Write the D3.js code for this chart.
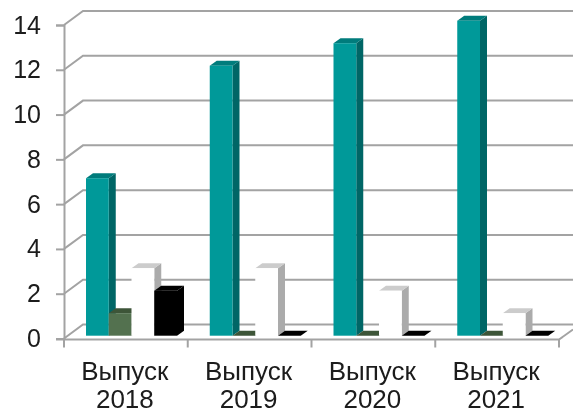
<!DOCTYPE html>
<html>
<head>
<meta charset="utf-8">
<script src="https://cdnjs.cloudflare.com/ajax/libs/d3/7.8.5/d3.min.js"></script>
<style>
  html, body { margin: 0; padding: 0; background: #fff; }
  svg { display: block; }
  text { font-family: "Liberation Sans", Arial, sans-serif; fill: #1a1a1a; }
</style>
</head>
<body>
<div class="chart"></div>
<script>
// Data
const categories = ['Выпуск 2018', 'Выпуск 2019', 'Выпуск 2020', 'Выпуск 2021'];
const seriesNames = ['teal', 'green', 'white', 'black'];
const tealValues = [7, 12, 13, 14];
const greenValues = [1, 0, 0, 0];
const whiteValues = [3, 3, 2, 1];
const blackValues = [2, 0, 0, 0];
const yTicks = [0, 2, 4, 6, 8, 10, 12, 14];

const seriesValues = [tealValues, greenValues, whiteValues, blackValues];
const seriesColors = [
    {front: '#009999', top: '#007b7b', side: '#006666'},
    {front: '#53714f', top: '#3e5538', side: '#3e5538'},
    {front: '#ffffff', top: '#cccccc', side: '#ababab'},
    {front: '#000000', top: '#000000', side: '#000000'}
];

// Base
const width = 573;
const height = 413;
const axisColor = '#a3a3a3';

const svg = d3.select('.chart')
    .append('svg')
    .attr('width', width)
    .attr('height', height);

const soft = svg.append('defs').append('filter').attr('id', 'soft');
soft.append('feGaussianBlur').attr('stdDeviation', 0.5);

const g = svg.append('g').attr('filter', 'url(#soft)');

// Scales
const xScale = d3.scaleBand()
    .domain(categories)
    .range([64, 559]);

const xInner = d3.scaleBand()
    .domain(seriesNames)
    .range([0, 91]);

const yScale = d3.scaleLinear()
    .domain([0, 14])
    .range([338.5, 25]);

// Bars stand a little inside the floor, so they get their own range
const yBar = d3.scaleLinear()
    .domain([0, 14])
    .range([335.7, 20.7]);

// Depth of the 3D wall and of the bars
const wall = {dx: 19, dy: -14};
const bar = {dx: 7, dy: -5, shiftX: 22};

// Back wall grid lines
const grid = g.append('g').attr('class', 'grid');

grid.selectAll('path')
    .data(yTicks)
    .enter()
    .append('path')
    .attr('d', d => {
        const y = yScale(d);
        return d3.line()([[64, y], [64 + wall.dx, y + wall.dy], [width, y + wall.dy]]);
    })
    .style('fill', 'none')
    .style('stroke', axisColor)
    .style('stroke-width', 2);

// Bars
const barLayer = g.append('g').attr('class', 'bars');

categories.forEach((cat, c) => {
    seriesNames.forEach((name, s) => {
        const value = seriesValues[s][c];
        const color = seriesColors[s];
        const x0 = xScale(cat) + bar.shiftX + xInner(name);
        const x1 = x0 + xInner.bandwidth();
        const yTop = yBar(value);
        const yBase = yBar(0);

        const item = barLayer.append('g').attr('class', 'bar ' + name);

        if (value > 0) {
            item.append('path')
                .attr('d', d3.line()([[x1, yTop], [x1 + bar.dx, yTop + bar.dy], [x1 + bar.dx, yBase + bar.dy], [x1, yBase]]) + 'Z')
                .style('fill', color.side);
        }
        // white bars at zero leave nothing visible on the white floor
        if (value > 0 || name !== 'white') {
            item.append('path')
                .attr('d', d3.line()([[x0, yTop], [x0 + bar.dx, yTop + bar.dy], [x1 + bar.dx, yTop + bar.dy], [x1, yTop]]) + 'Z')
                .style('fill', color.top);
        }
        if (value > 0) {
            item.append('rect')
                .attr('x', x0)
                .attr('y', yTop)
                .attr('width', x1 - x0)
                .attr('height', yBase - yTop)
                .style('fill', color.front);
        }
    });
});

// Axes
const yAxis = d3.axisLeft(yScale)
    .tickValues(yTicks)
    .tickSize(8)
    .tickPadding(15);

const yAxisDraw = g.append('g')
    .attr('class', 'y axis')
    .attr('transform', 'translate(64, 0)')
    .call(yAxis);

yAxisDraw.select('.domain').style('stroke', axisColor).style('stroke-width', 2);
yAxisDraw.selectAll('.tick line').style('stroke', axisColor).style('stroke-width', 2);
yAxisDraw.selectAll('text')
    .style('font-size', '25px')
    .style('font-family', '"Liberation Sans", Arial, sans-serif')
    .style('fill', '#1a1a1a');

const xBase = yScale(0) + 1;

const xAxis = g.append('g').attr('class', 'x axis');

xAxis.append('path')
    .attr('d', d3.line()([[56, xBase], [xScale.range()[1], xBase], [width, xBase - 10]]))
    .style('fill', 'none')
    .style('stroke', axisColor)
    .style('stroke-width', 2);

xAxis.selectAll('.boundary')
    .data(categories.map(c => xScale(c)).concat(xScale.range()[1]))
    .enter()
    .append('line')
    .attr('class', 'boundary')
    .attr('x1', d => d)
    .attr('x2', d => d)
    .attr('y1', xBase)
    .attr('y2', xBase + 8)
    .style('stroke', axisColor)
    .style('stroke-width', 2);

const labels = xAxis.selectAll('.label')
    .data(categories)
    .enter()
    .append('text')
    .attr('class', 'label')
    .attr('text-anchor', 'middle')
    .style('font-size', '26px');

labels.append('tspan')
    .attr('x', d => xScale(d) + xScale.bandwidth() / 2 - 1)
    .attr('y', 380)
    .text(d => d.split(' ')[0]);

labels.append('tspan')
    .attr('x', d => xScale(d) + xScale.bandwidth() / 2 - 1)
    .attr('y', 408)
    .text(d => d.split(' ')[1]);
</script>
</body>
</html>
